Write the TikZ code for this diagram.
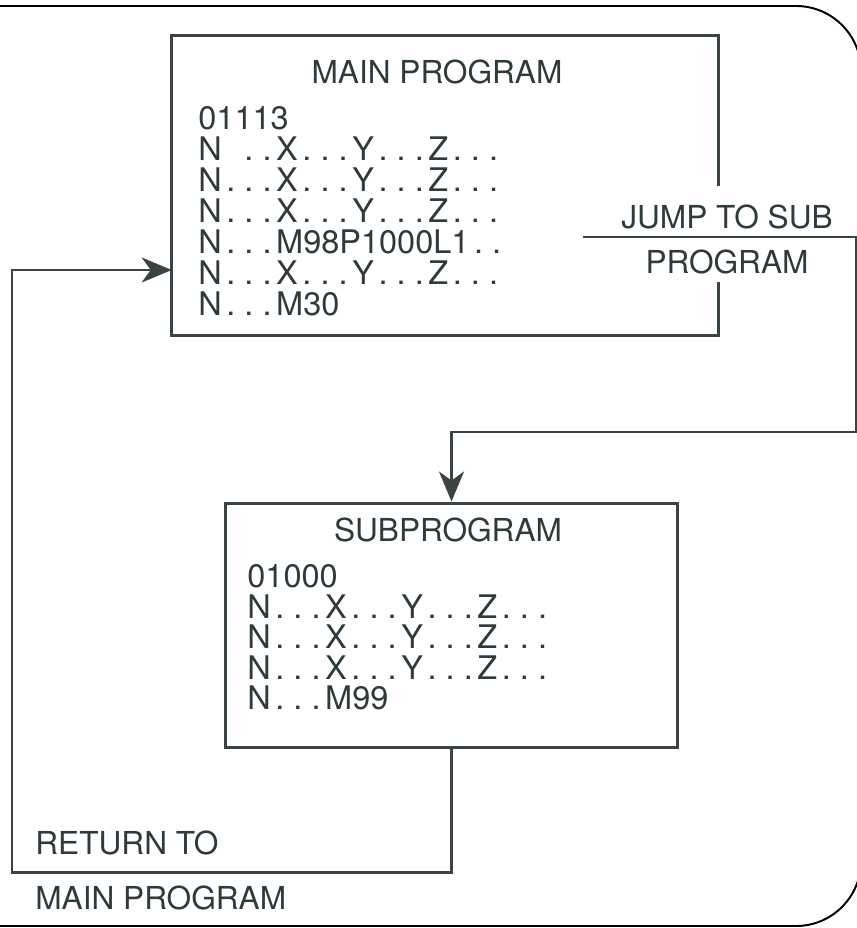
\documentclass[tikz,border=0pt]{standalone}
\usepackage{fontspec}
\setmainfont{TeX Gyre Heros}
\usetikzlibrary{arrows.meta,calc}
\definecolor{inkc}{HTML}{2F3B38}
\definecolor{linec}{HTML}{3A4542}
\newcommand\pd{\kern.14em.\kern.14em}
\tikzset{
  ln/.style={line width=1.7pt,linec},
  ar/.style={ln,-{Stealth[length=6mm,width=5mm,inset=1.8mm]}},
  txt/.style={font=\fontsize{18}{20}\selectfont,text=inkc,inner sep=0pt},
  code/.style={txt,font=\fontsize{18.5}{20}\selectfont,anchor=west},
  frame/.style={line width=1.1pt,black,rounded corners=1.3cm}
}
\begin{document}
\begin{tikzpicture}[x=0.02cm,y=-0.02cm]
\useasboundingbox (0,0) rectangle (857,928);
\clip (0,0) rectangle (857,928);
\draw[frame] (-20,6) -- (861,6) -- (861,926) -- (-20,926);
% the two program boxes
\node[minimum width=10.92cm,minimum height=5.98cm,inner sep=0pt] (main) at (445,185.5) {};
\node[ln,draw,minimum width=9.06cm,minimum height=4.9cm,inner sep=0pt] (sub) at (451.5,625.5) {};
\coordinate (gapA) at (718,186);
\coordinate (gapB) at (718,282);
\draw[ln] (gapA) |- (main.north west) -- (main.south west) -| (gapB);
\node[txt] (mtitle) at (437,72) {MAIN PROGRAM};
\foreach \t [count=\i from 0] in {01113,
  N\phantom{\pd}\pd\pd X\pd\pd\pd Y\pd\pd\pd Z\pd\pd\pd,
  N\pd\pd\pd X\pd\pd\pd Y\pd\pd\pd Z\pd\pd\pd,
  N\pd\pd\pd X\pd\pd\pd Y\pd\pd\pd Z\pd\pd\pd,
  N\pd\pd\pd M98P1000L1\pd\pd,
  N\pd\pd\pd X\pd\pd\pd Y\pd\pd\pd Z\pd\pd\pd,
  N\pd\pd\pd M30}
  \node[code] (m\i) at (198,118+31*\i) {\t};
\node[txt] (stitle) at (448,530) {SUBPROGRAM};
\foreach \t [count=\i from 0] in {01000,
  N\pd\pd\pd X\pd\pd\pd Y\pd\pd\pd Z\pd\pd\pd,
  N\pd\pd\pd X\pd\pd\pd Y\pd\pd\pd Z\pd\pd\pd,
  N\pd\pd\pd X\pd\pd\pd Y\pd\pd\pd Z\pd\pd\pd,
  N\pd\pd\pd M99}
  \node[code] (s\i) at (247,576+30.5*\i) {\t};
% jump to the subprogram
\node[txt] (jump1) at (727,217) {JUMP TO SUB};
\node[txt] (jump2) at (727,262) {PROGRAM};
\coordinate (jin) at (583,237);
\coordinate (rt) at (856,237);
\coordinate (turn) at (451.5,432);
\draw[ar] (jin) -- (rt) |- (turn) -- (sub.north);
% return to the main program
\node[txt,anchor=west] (ret1) at (35,843) {RETURN TO};
\node[txt,anchor=west] (ret2) at (35,898) {MAIN PROGRAM};
\coordinate (lowl) at (12,872);
\coordinate (retin) at (main.west |- 0,270);
\draw[ar] (sub.south) |- (lowl) |- (retin);
\end{tikzpicture}
\end{document}
